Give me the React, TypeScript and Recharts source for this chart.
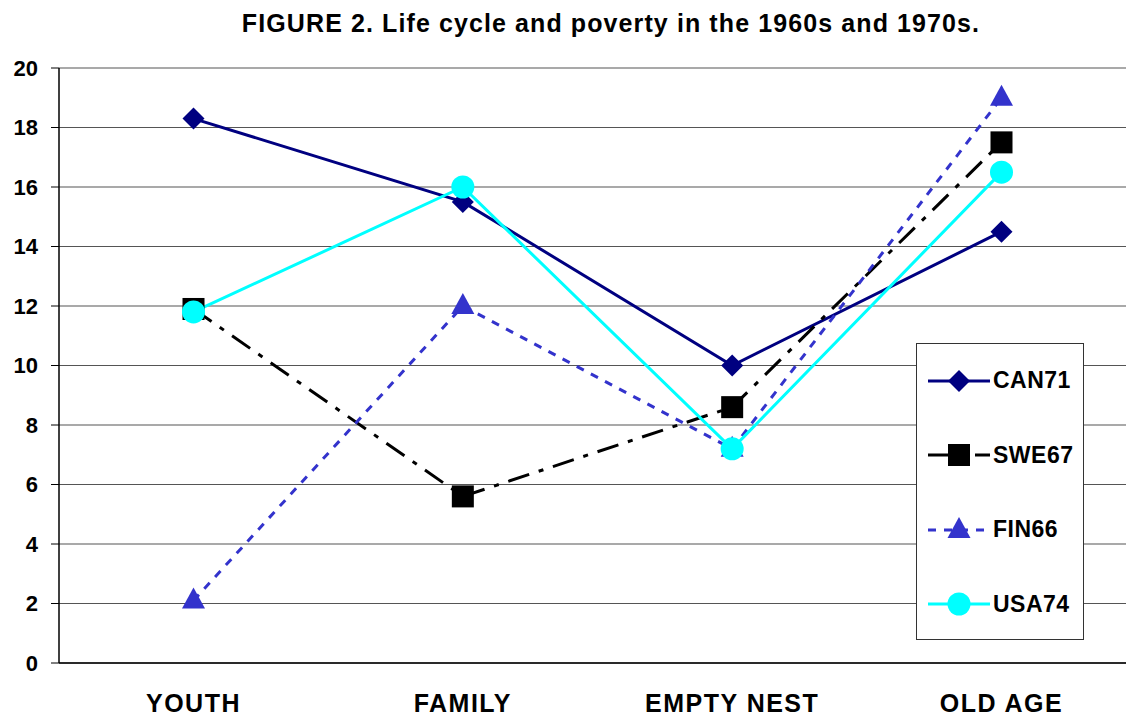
import React from "react";
import { CartesianGrid, Legend, Line, LineChart, XAxis, YAxis } from "recharts";

const stages = ["YOUTH", "FAMILY", "EMPTY NEST", "OLD AGE"];
const can71 = [18.3, 15.5, 10.0, 14.5];
const swe67 = [11.9, 5.6, 8.6, 17.5];
const fin66 = [2.1, 12.0, 7.2, 19.0];
const usa74 = [11.8, 16.0, 7.2, 16.5];
const yTicks = [0, 2, 4, 6, 8, 10, 12, 14, 16, 18, 20];

const data = stages.map((stage, i) => ({
  stage,
  CAN71: can71[i],
  SWE67: swe67[i],
  FIN66: fin66[i],
  USA74: usa74[i],
}));

const FONT = "Arial, 'Liberation Sans', sans-serif";

type Shape = "diamond" | "square" | "triangle" | "circle";

const SERIES: { key: string; color: string; dash?: string; shape: Shape }[] = [
  { key: "CAN71", color: "#000080", shape: "diamond" },
  { key: "SWE67", color: "#000000", dash: "22 10 5 10", shape: "square" },
  { key: "FIN66", color: "#3333cc", dash: "8 8", shape: "triangle" },
  { key: "USA74", color: "#00ffff", shape: "circle" },
];

function Marker({ cx, cy, shape, color }: { cx: number; cy: number; shape: Shape; color: string }) {
  if (cx == null || cy == null) return null;
  if (shape === "diamond")
    return <polygon points={`${cx},${cy - 11} ${cx + 11},${cy} ${cx},${cy + 11} ${cx - 11},${cy}`} fill={color} />;
  if (shape === "square")
    return <rect x={cx - 11} y={cy - 11} width={22} height={22} fill={color} />;
  if (shape === "triangle")
    return <polygon points={`${cx},${cy - 13} ${cx + 11.5},${cy + 8} ${cx - 11.5},${cy + 8}`} fill={color} />;
  return <circle cx={cx} cy={cy} r={11.5} fill={color} />;
}

function LegendBox() {
  return (
    <div
      style={{
        position: "relative",
        width: 166,
        height: 295,
        border: "1px solid #333",
        background: "#fff",
        fontFamily: FONT,
      }}
    >
      {SERIES.map((s, i) => (
        <div key={s.key} style={{ position: "absolute", left: 10, top: 23 + i * 74.5, display: "flex", alignItems: "center" }}>
          <svg width={64} height={26}>
            <line x1={1} y1={13} x2={63} y2={13} stroke={s.color} strokeWidth={3} strokeDasharray={s.dash} />
            <Marker cx={32} cy={13} shape={s.shape} color={s.color} />
          </svg>
          <span style={{ fontWeight: "bold", fontSize: 23, letterSpacing: 0.5, marginLeft: 2 }}>{s.key}</span>
        </div>
      ))}
    </div>
  );
}

function XTick({ x, y, payload }: any) {
  return (
    <text x={x} y={y + 41} textAnchor="middle" fontFamily={FONT} fontWeight="bold" fontSize={25} letterSpacing={1.5} fill="#000">
      {payload.value}
    </text>
  );
}

export default function App() {
  return (
    <div style={{ position: "absolute", left: 0, top: 0, width: 1126, height: 717, overflow: "hidden", background: "#fff" }}>
      <svg width={1126} height={50} style={{ position: "absolute", left: 0, top: 0 }}>
        <text x={611} y={32} textAnchor="middle" fontFamily={FONT} fontWeight="bold" fontSize={25} letterSpacing={1.1} fill="#000">
          FIGURE 2. Life cycle and poverty in the 1960s and 1970s.
        </text>
      </svg>
      <LineChart width={1140} height={717} data={data} margin={{ top: 68, right: 4, bottom: 0, left: 0 }}>
        <CartesianGrid vertical={false} stroke="#555" strokeWidth={1.2} />
        <XAxis
          dataKey="stage"
          height={54}
          padding={{ left: 134.5, right: 134.5 }}
          axisLine={{ stroke: "#000", strokeWidth: 1.5 }}
          tickLine={false}
          tick={<XTick />}
          interval={0}
        />
        <YAxis
          width={59}
          domain={[0, 20]}
          ticks={yTicks}
          interval={0}
          axisLine={{ stroke: "#000", strokeWidth: 1.5 }}
          tickLine={{ stroke: "#000" }}
          tickSize={8}
          tickMargin={13}
          tick={{ fill: "#000", fontSize: 22, fontWeight: "bold", fontFamily: FONT }}
        />
        <Legend
          layout="vertical"
          verticalAlign="middle"
          align="center"
          wrapperStyle={{ left: 916, top: 343, width: 168, height: 297 }}
          content={() => <LegendBox />}
        />
        {SERIES.map((s) => (
          <Line
            key={s.key}
            dataKey={s.key}
            stroke={s.color}
            strokeWidth={3}
            strokeDasharray={s.dash}
            isAnimationActive={false}
            dot={(p: any) => <Marker key={`${s.key}-${p.index}`} cx={p.cx} cy={p.cy} shape={s.shape} color={s.color} />}
            activeDot={false}
          />
        ))}
      </LineChart>
    </div>
  );
}
